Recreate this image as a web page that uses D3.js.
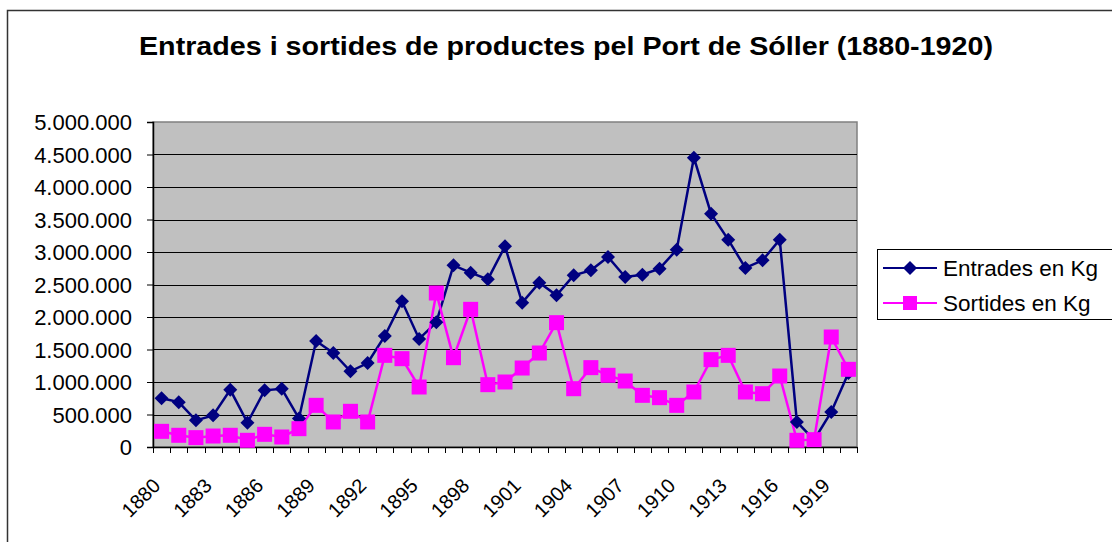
<!DOCTYPE html>
<html>
<head>
<meta charset="utf-8">
<script src="https://cdn.jsdelivr.net/npm/d3@7"></script>
<style>
  body { margin: 0; background: white; }
  text { font-family: "Liberation Sans", Arial, sans-serif; }
</style>
</head>
<body>
<div id="vis"></div>
<script>
// years 1880..1920
let years = d3.range(1880, 1921)

let entrades = [
  750000, 690000, 410000, 487000, 880000, 374000, 872000, 895000, 440000, 1630000,
  1446000, 1164000, 1292000, 1708000, 2241000, 1662000, 1918000, 2795000, 2682000, 2579000,
  3087000, 2221000, 2528000, 2333000, 2641000, 2718000, 2923000, 2615000, 2651000, 2744000,
  3036000, 4451000, 3590000, 3190000, 2754000, 2872000, 3190000, 385000, 110000, 538000,
  1140000
]

let sortides = [
  241000, 180000, 144000, 169000, 180000, 103000, 195000, 154000, 282000, 641000,
  385000, 549000, 385000, 1410000, 1359000, 923000, 2369000, 1374000, 2118000, 959000,
  1000000, 1215000, 1446000, 1913000, 897000, 1221000, 1103000, 1015000, 795000, 759000,
  641000, 846000, 1344000, 1410000, 846000, 820000, 1092000, 103000, 113000, 1692000,
  1195000
]

let yTicks = d3.range(0, 5000001, 500000)
let xLabelYears = years.filter((d, i) => i % 3 === 0)

let W = 1112, H = 542
let margin = { top: 122, left: 153, right: 255, bottom: 95 }
let width = W - margin.left - margin.right,
  height = H - margin.top - margin.bottom

let svg = d3.select('#vis')
  .append('svg')
  .attr('width', W)
  .attr('height', H)

// outer chart border (top and left only visible)
svg.append('path')
  .attr('d', 'M7.5,' + H + 'V10.5H' + W)
  .attr('fill', 'none')
  .attr('stroke', '#333')
  .attr('stroke-width', 1.5)

svg.append('text')
  .attr('x', 566)
  .attr('y', 55)
  .attr('text-anchor', 'middle')
  .attr('textLength', 854)
  .attr('lengthAdjust', 'spacingAndGlyphs')
  .style('font-size', '26px')
  .style('font-weight', 'bold')
  .text('Entrades i sortides de productes pel Port de Sóller (1880-1920)')

let g = svg.append('g')
  .attr('transform', 'translate(' + margin.left + ',' + margin.top + ')')

let x = d3.scaleBand()
  .domain(years)
  .range([0, width])

let y = d3.scaleLinear()
  .domain([0, 5000000])
  .range([height, 0])

g.append('rect')
  .attr('width', width)
  .attr('height', height)
  .attr('fill', '#c0c0c0')
  .attr('stroke', '#808080')
  .attr('stroke-width', 1.5)

// gridlines
g.selectAll('.grid')
  .data(yTicks.slice(1, -1))
  .enter()
  .append('line')
  .attr('x1', 0)
  .attr('x2', width)
  .attr('y1', d => Math.round(y(d)) + 0.5)
  .attr('y2', d => Math.round(y(d)) + 0.5)
  .attr('stroke', '#000')
  .attr('stroke-width', 1)

let fmt = d => d3.format(',')(d).replace(/,/g, '.')

let yAxis = g.append('g')
  .call(d3.axisLeft(y).tickValues(yTicks).tickFormat(fmt).tickSize(6).tickPadding(15))
yAxis.select('.domain').attr('stroke', '#000').attr('stroke-width', 1.5)
yAxis.selectAll('.tick line').attr('stroke', '#000')
yAxis.selectAll('text')
  .style('font-size', '22px')
  .attr('fill', '#000')
  .attr('dy', '0.36em')

let xAxis = g.append('g')
  .attr('transform', 'translate(0,' + height + ')')
  .call(d3.axisBottom(x).tickValues([]).tickSize(0))
xAxis.select('.domain').attr('stroke', '#000').attr('stroke-width', 1.5)

// category tick marks at band boundaries
xAxis.selectAll('.ctick')
  .data(years.concat([null]))
  .enter()
  .append('line')
  .attr('x1', (d, i) => Math.round(i * x.step()) + 0.5)
  .attr('x2', (d, i) => Math.round(i * x.step()) + 0.5)
  .attr('y1', 0)
  .attr('y2', 6)
  .attr('stroke', '#000')

xAxis.selectAll('.xlab')
  .data(xLabelYears)
  .enter()
  .append('text')
  .attr('transform', d => 'translate(' + (x(d) + x.bandwidth() / 2) + ',40) rotate(-45)')
  .attr('text-anchor', 'end')
  .style('font-size', '20px')
  .attr('fill', '#000')
  .text(d => d)

let cx = d => x(d) + x.bandwidth() / 2

let lineE = d3.line()
  .x((d, i) => cx(years[i]))
  .y(d => y(d))

g.append('path')
  .datum(entrades)
  .attr('d', lineE)
  .attr('fill', 'none')
  .attr('stroke', '#000080')
  .attr('stroke-width', 2.5)

g.append('path')
  .datum(sortides)
  .attr('d', lineE)
  .attr('fill', 'none')
  .attr('stroke', '#ff00ff')
  .attr('stroke-width', 2.5)

let diamond = 'M0,-7L7,0L0,7L-7,0Z'

g.selectAll('.diam')
  .data(entrades)
  .enter()
  .append('path')
  .attr('d', diamond)
  .attr('transform', (d, i) => 'translate(' + cx(years[i]) + ',' + y(d) + ')')
  .attr('fill', '#000080')

g.selectAll('.sq')
  .data(sortides)
  .enter()
  .append('rect')
  .attr('x', (d, i) => cx(years[i]) - 7.5)
  .attr('y', d => y(d) - 7.5)
  .attr('width', 15)
  .attr('height', 15)
  .attr('fill', '#ff00ff')

// legend
let legend = svg.append('g')
  .attr('transform', 'translate(877,249)')

legend.append('rect')
  .attr('x', 0.5)
  .attr('y', 0.5)
  .attr('width', 240)
  .attr('height', 70)
  .attr('fill', 'white')
  .attr('stroke', '#000')

let legItems = [
  { name: 'Entrades en Kg', color: '#000080', shape: 'diamond' },
  { name: 'Sortides en Kg', color: '#ff00ff', shape: 'square' }
]

legItems.forEach(function(item, i) {
  let ly = 19 + i * 35
  legend.append('line')
    .attr('x1', 6)
    .attr('x2', 60)
    .attr('y1', ly)
    .attr('y2', ly)
    .attr('stroke', item.color)
    .attr('stroke-width', 2)
  if (item.shape === 'diamond') {
    legend.append('path')
      .attr('d', diamond)
      .attr('transform', 'translate(33,' + ly + ')')
      .attr('fill', item.color)
  } else {
    legend.append('rect')
      .attr('x', 26)
      .attr('y', ly - 7)
      .attr('width', 14)
      .attr('height', 14)
      .attr('fill', item.color)
  }
  legend.append('text')
    .attr('x', 66)
    .attr('y', ly)
    .attr('dy', '0.36em')
    .style('font-size', '22.5px')
    .text(item.name)
})
</script>
</body>
</html>
